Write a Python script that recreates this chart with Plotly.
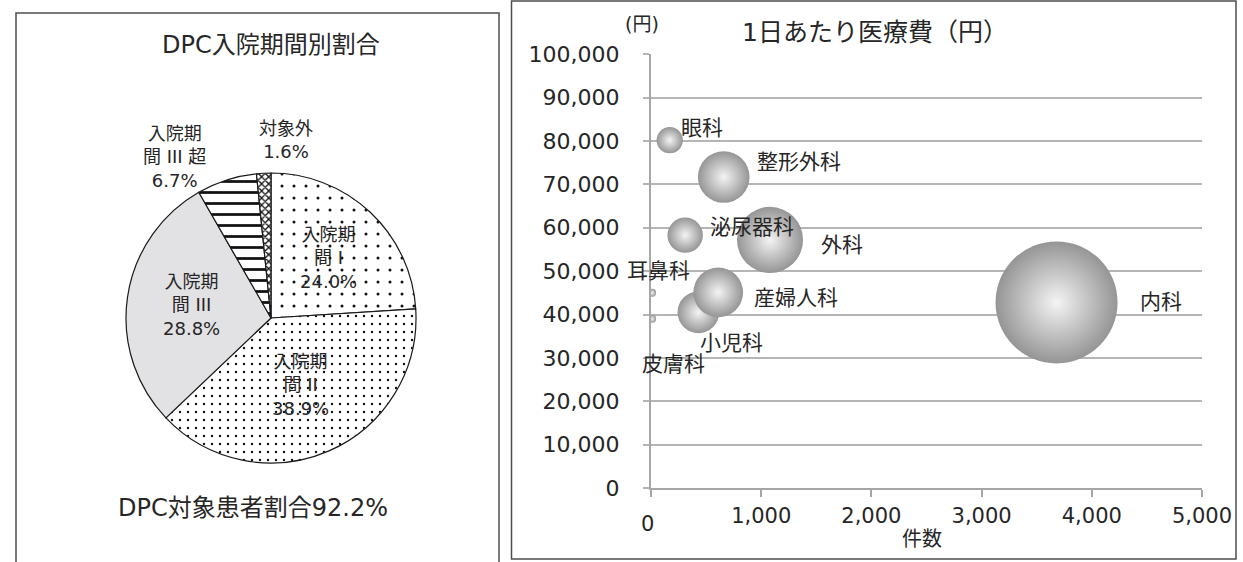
import plotly.graph_objects as go

W, H = 1243, 562
FONT = "DejaVu Sans, Noto Sans CJK JP"
TXT = "#262626"

# ---------------- data ----------------
pie_labels = ["入院期間I", "入院期間II", "入院期間III", "入院期間III超", "対象外"]
pie_label_text = ["入院期<br>間 I", "入院期<br>間 II", "入院期<br>間 III", "入院期<br>間 III 超", "対象外"]
pie_values = [24.0, 38.9, 28.8, 6.7, 1.6]
pie_title = "DPC入院期間別割合"
pie_note = "DPC対象患者割合92.2%"

depts = ["内科", "外科", "整形外科", "泌尿器科", "眼科", "小児科", "産婦人科", "耳鼻科", "皮膚科"]
counts = [3680, 1080, 660, 310, 170, 430, 610, 10, 10]
cost_per_day = [42800, 57200, 71700, 58300, 80200, 40500, 45100, 45000, 39000]
bubble_title = "1日あたり医療費（円）"
x_title = "件数"
y_unit = "(円)"
x_ticks = [0, 1000, 2000, 3000, 4000, 5000]

# ---------------- styles ----------------
pie_fill = ["white", "white", "#e2e2e4", "white", "white"]
pie_shape = [".", ".", "", "-", "x"]
pie_psize = [12, 8, 8, 11, 5]
pie_psolid = [0.05, 0.07, 0.1, 0.25, 0.45]
# label placement (px, relative to figure)
pie_label_pos = [(328, 258), (300, 385), (191, 305), (174, 157), (286, 140)]
bubble_label_shift = {
    "内科": (104, 0), "外科": (72, -5), "整形外科": (75, 15), "泌尿器科": (67, 8),
    "眼科": (32, 12), "小児科": (33, -31), "産婦人科": (78, -6),
    "耳鼻科": (6, 22), "皮膚科": (21, -45),
}

def px(xp):
    return xp / W

def py(yp):
    return 1 - yp / H

fig = go.Figure()

fig.add_trace(go.Pie(
    labels=pie_labels, values=pie_values, sort=False, direction="clockwise",
    rotation=0, textinfo="none", hoverinfo="label+percent",
    domain=dict(x=[px(271 - 145), px(271 + 145)], y=[py(318 + 145), py(318 - 145)]),
    marker=dict(colors=pie_fill, line=dict(color="#1a1a1a", width=1.2),
                pattern=dict(shape=pie_shape, fgcolor="#111111", bgcolor=pie_fill,
                             size=pie_psize, solidity=pie_psolid, fillmode="replace")),
    showlegend=False,
))

max_d = 122
fig.add_trace(go.Scatter(
    x=counts, y=cost_per_day, mode="markers", text=depts,
    marker=dict(size=counts, sizemode="area", sizeref=2 * max(counts) / max_d ** 2, sizemin=4,
                color="#959595", gradient=dict(type="radial", color="#f4f4f4"),
                line=dict(width=0), opacity=1),
    showlegend=False, hoverinfo="text+x+y",
))

def ann(x, y, text, size, xref="paper", yref="paper", xshift=0, yshift=0):
    return dict(x=x, y=y, xref=xref, yref=yref, xshift=xshift, yshift=yshift,
                xanchor="center", yanchor="middle", showarrow=False, align="center",
                text=text, font=dict(size=size, color=TXT, family=FONT))

anns = []
for txt, v, (lx, ly) in zip(pie_label_text, pie_values, pie_label_pos):
    anns.append(ann(px(lx), py(ly), f"{txt}<br>{v:.1f}%", 18))
anns.append(ann(px(271), py(45), pie_title, 24))
anns.append(ann(px(253), py(508), pie_note, 24))
for d, xv, yv in zip(depts, counts, cost_per_day):
    sx, sy = bubble_label_shift[d]
    anns.append(ann(xv, yv, d, 21, xref="x", yref="y", xshift=sx, yshift=sy))
anns.append(ann(px(875), py(32), bubble_title, 25))
anns.append(ann(px(642), py(24), y_unit, 19))
anns.append(ann(px(922), py(539), x_title, 20))
anns.append(ann(0, py(524), f"{x_ticks[0]:,}", 21, xref="x", xshift=-4))

fig.update_layout(
    width=W, height=H, margin=dict(l=0, r=0, t=0, b=0, pad=0, autoexpand=False),
    paper_bgcolor="white", plot_bgcolor="white",
    font=dict(family=FONT, color=TXT),
    annotations=anns,
    xaxis=dict(domain=[px(651), px(1202)], range=[0, 5000], tickvals=x_ticks,
               ticktext=[""] + [f"{t:,}" for t in x_ticks[1:]], automargin=False,
               showgrid=False, zeroline=False, showline=True, linecolor="#a6a6a6",
               linewidth=2, ticks="outside", ticklen=7, tickcolor="#a6a6a6", tickwidth=1.5,
               tickfont=dict(size=21, color=TXT, family=FONT), ticklabelstandoff=1),
    yaxis=dict(domain=[py(488), py(54.3)], range=[0, 100000], dtick=10000, tickformat=",",
               showgrid=True, gridcolor="#b5b5b5", gridwidth=1.5, zeroline=False,
               automargin=False,
               showline=True, linecolor="#a6a6a6", linewidth=2, ticks="outside", ticklen=6,
               tickcolor="#b5b5b5", tickwidth=1.5,
               tickfont=dict(size=22, color=TXT, family=FONT), ticklabelstandoff=19),
    shapes=[
        dict(type="rect", xref="paper", yref="paper", x0=px(16), x1=px(499), y0=-0.05,
             y1=py(13), line=dict(color="#4d4d4d", width=1.5), fillcolor="rgba(0,0,0,0)"),
        dict(type="rect", xref="paper", yref="paper", x0=px(511.5), x1=px(1236), y0=py(559),
             y1=py(1), line=dict(color="#4d4d4d", width=1.5), fillcolor="rgba(0,0,0,0)"),
    ],
)

fig.write_html("out.html", config={"displayModeBar": False},
               post_script="document.body.style.margin='0';document.body.style.overflow='hidden';")
